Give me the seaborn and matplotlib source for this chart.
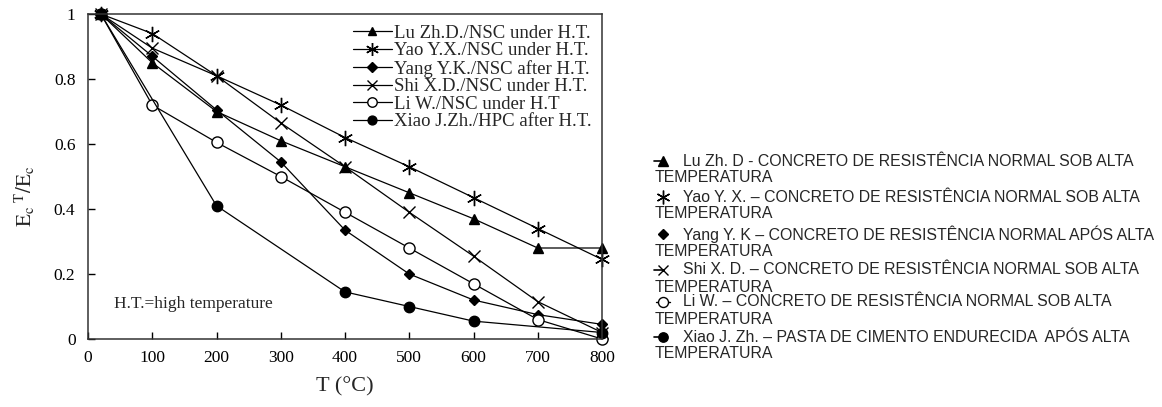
import numpy as np
import pandas as pd
import matplotlib
matplotlib.use("Agg")
import matplotlib.pyplot as plt
from matplotlib.lines import Line2D
import seaborn as sns

# Temperatures (°C) and normalised elastic modulus E_c^T / E_c
temps = [20, 100, 200, 300, 400, 500, 600, 700, 800]
lu_zhd = [1.0, 0.85, 0.70, 0.61, 0.53, 0.45, 0.37, 0.28, 0.28]
yao_yx = [1.0, 0.94, 0.81, 0.72, 0.62, 0.53, 0.435, 0.34, 0.245]
yang_yk = [1.0, 0.87, 0.705, 0.545, 0.335, 0.20, 0.12, 0.075, 0.045]
shi_xd = [1.0, 0.895, 0.81, 0.665, 0.53, 0.39, 0.255, 0.115, 0.02]
li_w = [1.0, 0.72, 0.605, 0.50, 0.39, 0.28, 0.17, 0.06, 0.0]
xiao_temps = [20, 200, 400, 500, 600, 800]
xiao_jzh = [1.0, 0.41, 0.145, 0.10, 0.055, 0.02]

labels_en = [
    "Lu Zh.D./NSC under H.T.",
    "Yao Y.X./NSC under H.T.",
    "Yang Y.K./NSC after H.T.",
    "Shi X.D./NSC under H.T.",
    "Li W./NSC under H.T",
    "Xiao J.Zh./HPC after H.T.",
]
labels_pt = [
    "Lu Zh. D - CONCRETO DE RESISTÊNCIA NORMAL SOB ALTA",
    "Yao Y. X. – CONCRETO DE RESISTÊNCIA NORMAL SOB ALTA",
    "Yang Y. K – CONCRETO DE RESISTÊNCIA NORMAL APÓS ALTA",
    "Shi X. D. – CONCRETO DE RESISTÊNCIA NORMAL SOB ALTA",
    "Li W. – CONCRETO DE RESISTÊNCIA NORMAL SOB ALTA",
    "Xiao J. Zh. – PASTA DE CIMENTO ENDURECIDA  APÓS ALTA",
]
wrap_word = "TEMPERATURA"

series = [
    (temps, lu_zhd),
    (temps, yao_yx),
    (temps, yang_yk),
    (temps, shi_xd),
    (temps, li_w),
    (xiao_temps, xiao_jzh),
]

frames = []
for lab, (t, v) in zip(labels_en, series):
    frames.append(pd.DataFrame({"T": t, "ratio": v, "series": lab}))
df = pd.concat(frames, ignore_index=True)

sns.set_theme(style="ticks")
plt.rcParams["font.family"] = ["Liberation Serif", "DejaVu Serif"]
plt.rcParams["mathtext.fontset"] = "stix"

# marker styles: (marker, size, facecolor)
styles = [
    ("^", 7.5, "black"),
    ((6, 2, 0), 11, "black"),
    ("D", 5.5, "black"),
    ("x", 8.5, "black"),
    ("o", 8, "white"),
    ("o", 7.5, "black"),
]

fig = plt.figure(figsize=(11.62, 4.07), dpi=100)
ax = fig.add_axes([88 / 1162, 1 - 339 / 407, (602 - 88) / 1162, (339 - 14) / 407])

for lab, (mk, ms, fc) in zip(labels_en, styles):
    sub = df[df["series"] == lab]
    sns.lineplot(data=sub, x="T", y="ratio", ax=ax, color="black", lw=0.9,
                 marker=mk, markersize=ms, markerfacecolor=fc,
                 markeredgecolor="black", markeredgewidth=1.0,
                 label=lab, clip_on=False, legend=False)

ax.set_xlim(0, 800)
ax.set_ylim(0, 1)
ax.set_xticks(np.arange(0, 801, 100))
ax.set_yticks([0, 0.2, 0.4, 0.6, 0.8, 1.0])
ax.set_yticklabels(["0", "0.2", "0.4", "0.6", "0.8", "1"])
ax.tick_params(direction="in", length=5, width=1, labelsize=12.5, colors="black")
ax.tick_params(axis="y", pad=9)
ax.tick_params(axis="x", pad=8)
for sp in ax.spines.values():
    sp.set_visible(True)
    sp.set_color("#333333")
    sp.set_linewidth(1.1)

ax.set_xlabel("T (°C)", fontsize=16, labelpad=8)
ax.set_ylabel(r"$\mathrm{E_c}^{\ \mathrm{T}}/\mathrm{E_c}$", fontsize=15)
ax.yaxis.set_label_coords(-0.10, 0.44)

ax.text(40, 0.108, "H.T.=high temperature", fontsize=12.5, ha="left", va="center")

handles = [Line2D([], [], color="black", lw=0.9, marker=mk, markersize=ms * 0.85,
                  markerfacecolor=fc, markeredgecolor="black")
           for mk, ms, fc in styles]
leg = ax.legend(handles, labels_en, loc="upper right", frameon=False,
                fontsize=13.5, handlelength=2.1, handletextpad=0.12,
                labelspacing=0.02, borderaxespad=0.0,
                bbox_to_anchor=(0.995, 0.99))

# Portuguese key on the right of the figure
sans = ["Liberation Sans", "DejaVu Sans"]
row_y = [161, 197, 234, 270, 302, 337]
line_gap = 17
mx, tx, wx = 663, 683, 655
left_dash = [True, False, False, True, False, True]
for i, (lab, (mk, ms, fc)) in enumerate(zip(labels_pt, styles)):
    y = row_y[i]
    fy = 1 - y / 407
    if left_dash[i]:
        fig.add_artist(Line2D([(mx - 9) / 1162, mx / 1162], [fy, fy], color="black", lw=1.2))
    if i == 4:
        fig.add_artist(Line2D([(mx - 7) / 1162, (mx + 7) / 1162], [fy, fy], color="black", lw=1.0))
    fig.add_artist(Line2D([mx / 1162], [fy], marker=mk, markersize=ms * 0.9,
                          markerfacecolor=fc, markeredgecolor="black", color="black"))
    fig.text(tx / 1162, fy, lab, family=sans, fontsize=11.4, ha="left", va="center")
    fig.text(wx / 1162, 1 - (y + line_gap) / 407, wrap_word, family=sans,
             fontsize=11.4, ha="left", va="center")

fig.savefig("out.png", dpi=100, facecolor="white")
